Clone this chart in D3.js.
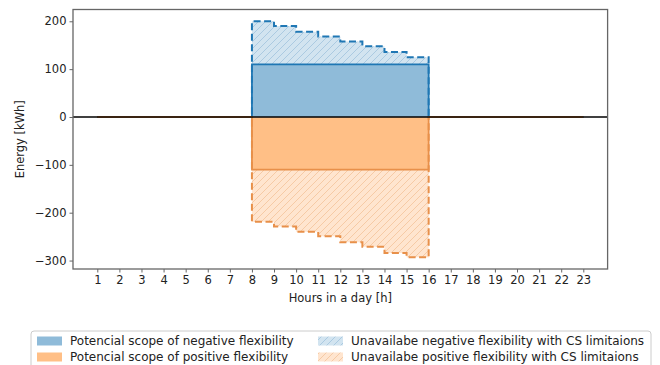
<!DOCTYPE html>
<html><head><meta charset="utf-8">
<script src="https://cdn.jsdelivr.net/npm/d3@7"></script>
<style>body{margin:0;background:#fff}svg{display:block}text{font-family:"DejaVu Sans",sans-serif;fill:#222}</style>
</head><body>
<script>
const hours = [1,2,3,4,5,6,7,8,9,10,11,12,13,14,15,16,17,18,19,20,21,22,23];
const negScope    = [0,0,0,0,0,0,0,110,110,110,110,110,110,110,110,0,0,0,0,0,0,0,0];
const negUnavail  = [0,0,0,0,0,0,0,200,190,178,168,158,148,136,125,0,0,0,0,0,0,0,0];
const posScope    = [0,0,0,0,0,0,0,-110,-110,-110,-110,-110,-110,-110,-110,0,0,0,0,0,0,0,0];
const posUnavail  = [0,0,0,0,0,0,0,-219,-229,-240,-249,-262,-271,-284,-293,0,0,0,0,0,0,0,0];
const yTicks = [-300,-200,-100,0,100,200];
const legendLabels = [
  "Potencial scope of negative flexibility",
  "Potencial scope of positive flexibility",
  "Unavailabe negative flexibility with CS limitaions",
  "Unavailabe positive flexibility with CS limitaions"
];

const W=660,H=365;
const L=73,R=607.6,T=9.5,B=269;
const svg=d3.select("body").append("svg").attr("width",W).attr("height",H);
const defs=svg.append("defs");
function hatch(id,bg,line){
  const s=7;
  const p=defs.append("pattern").attr("id",id).attr("patternUnits","userSpaceOnUse").attr("width",s).attr("height",s);
  p.append("rect").attr("width",s).attr("height",s).attr("fill",bg);
  p.append("path").attr("d",`M-1,${s+1} L${s+1},-1 M-3,3 L3,-3 M${s-3},${s+3} L${s+3},${s-3}`).attr("stroke",line).attr("stroke-width",0.9);
}
hatch("hb","#d2e4f0","#a7c7e0");
hatch("ho","#ffe5cf","#f5c7a0");

const allVals=negUnavail.concat(posUnavail);
const ymin=d3.min(allVals),ymax=d3.max(allVals);
const ym=(ymax-ymin)*0.05;
const y=d3.scaleLinear().domain([ymin-ym,ymax+ym]).range([B,T]);
const xm=(d3.max(hours)-d3.min(hours))*0.05;
const x=d3.scaleLinear().domain([d3.min(hours)-xm,d3.max(hours)+xm]).range([L,R]);

const g=svg.append("g");
function area(lo,hi){
  return d3.area().curve(d3.curveStepAfter).x((d,i)=>x(hours[i])).y0((d,i)=>y(lo[i])).y1((d,i)=>y(hi[i]))(hours);
}
function line(v){
  return d3.line().curve(d3.curveStepAfter).x((d,i)=>x(hours[i])).y((d,i)=>y(v[i]))(hours);
}
const zeros=hours.map(()=>0);
g.append("path").attr("d",area(negScope,negUnavail)).attr("fill","url(#hb)");
g.append("path").attr("d",area(posUnavail,posScope)).attr("fill","url(#ho)");
g.append("path").attr("d",area(zeros,negScope)).attr("fill","#8fbbd9");
g.append("path").attr("d",area(posScope,zeros)).attr("fill","#ffbf86");
g.append("path").attr("d",line(negUnavail)).attr("fill","none").attr("stroke","#1f77b4").attr("stroke-width",2).attr("stroke-dasharray","7,3.5");
g.append("path").attr("d",line(posUnavail)).attr("fill","none").attr("stroke","#e8904a").attr("stroke-width",2).attr("stroke-dasharray","7,3.5");
g.append("path").attr("d",line(negScope)).attr("fill","none").attr("stroke","#1f77b4").attr("stroke-width",1.8);
g.append("path").attr("d",line(posScope)).attr("fill","none").attr("stroke","#e8904a").attr("stroke-width",1.8);
g.append("line").attr("x1",L).attr("x2",R).attr("y1",y(0)).attr("y2",y(0)).attr("stroke","#000").attr("stroke-width",1.5);

// frame
svg.append("rect").attr("x",L).attr("y",T).attr("width",R-L).attr("height",B-T).attr("fill","none").attr("stroke","#666").attr("stroke-width",1.3);

const xa=svg.append("g").attr("transform",`translate(0,${B})`).call(d3.axisBottom(x).tickValues(hours).tickSize(3.5).tickPadding(3).tickFormat(d3.format("d")));
const ya=svg.append("g").attr("transform",`translate(${L},0)`).call(d3.axisLeft(y).tickValues(yTicks).tickSize(3.5).tickPadding(3).tickFormat(d=>d<0?"\u2212"+(-d):d));
[xa,ya].forEach(a=>{a.select(".domain").remove();a.selectAll("line").attr("stroke","#666");a.selectAll("text").attr("font-size",11.5).attr("font-family","DejaVu Sans").attr("fill","#222");});

svg.append("text").attr("x",(L+R)/2).attr("y",302).attr("text-anchor","middle").attr("font-size",11.5).text("Hours in a day [h]");
svg.append("text").attr("transform",`translate(24,${(T+B)/2}) rotate(-90)`).attr("text-anchor","middle").attr("font-size",11.5).text("Energy [kWh]");

// legend
const lg=svg.append("g");
lg.append("rect").attr("x",31).attr("y",331).attr("width",620).attr("height",40).attr("rx",3).attr("fill","#fff").attr("stroke","#ccc");
const fills=["#8fbbd9","#ffbf86","url(#hb)","url(#ho)"];
const pos=[[37,341],[37,357],[318,341],[318,357]];
legendLabels.forEach((t,i)=>{
  lg.append("rect").attr("x",pos[i][0]).attr("y",pos[i][1]-4.5).attr("width",25).attr("height",9).attr("fill",fills[i]);
  lg.append("text").attr("x",pos[i][0]+33).attr("y",pos[i][1]+4).attr("font-size",12).text(t);
});
</script>
</body></html>
